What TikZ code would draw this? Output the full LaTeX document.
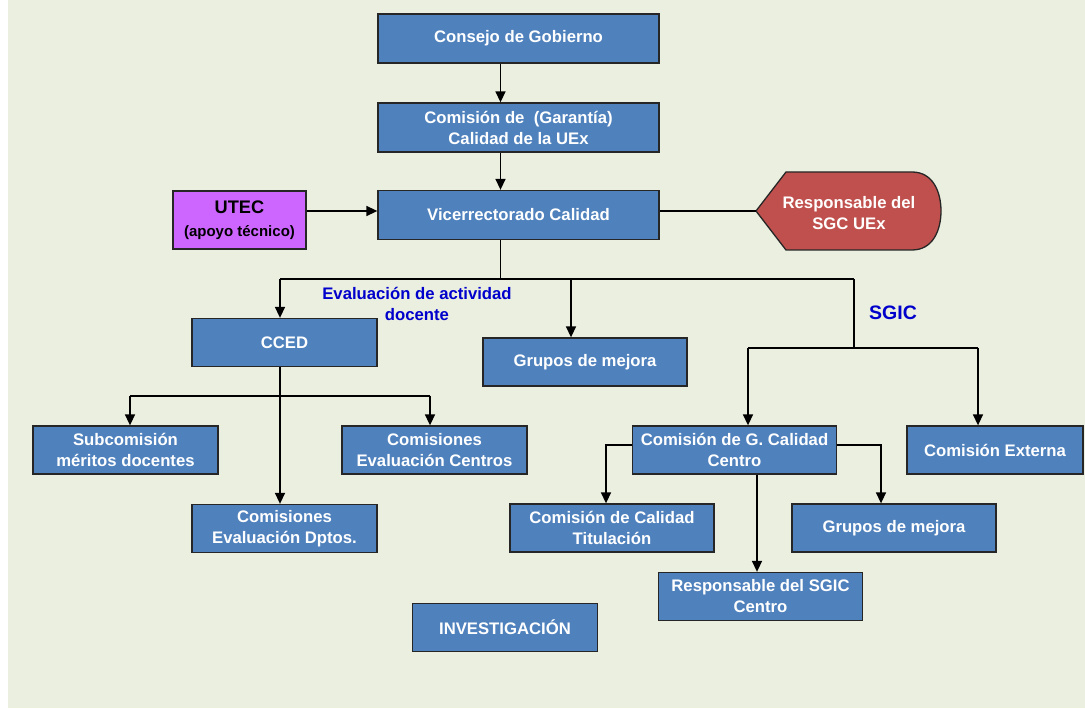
\documentclass[tikz,border=0pt]{standalone}
\usepackage{fontspec}
\setmainfont{Liberation Sans}
\usepackage{xcolor}
\usepackage{tikz}
\definecolor{boxblue}{RGB}{79,129,189}
\definecolor{utecpurple}{RGB}{204,102,255}
\definecolor{respred}{RGB}{192,80,77}
\definecolor{paneback}{RGB}{235,239,223}
\definecolor{labelblue}{RGB}{0,0,204}
\definecolor{edgegray}{RGB}{38,38,38}
\usetikzlibrary{arrows.meta,positioning,calc}

\begin{document}
\begin{tikzpicture}[
    x=1pt, y=-1pt,
    unit/.style={rectangle, draw=edgegray, line width=1.3pt, fill=boxblue, text=white, align=center, inner sep=0pt, font=\bfseries\fontsize{16.7}{21}\selectfont},
    topbox/.style={unit, minimum width=281, minimum height=49},
    midbox/.style={unit, minimum width=204, minimum height=48},
    smallbox/.style={unit, minimum width=185, minimum height=48},
    blabel/.style={text=labelblue, align=center, font=\bfseries\fontsize{16.7}{21}\selectfont},
    arrow/.style={-{Triangle[length=11pt,width=10pt]}, line width=1.5pt},
    link/.style={line width=1.5pt}
]

\useasboundingbox (0,0) rectangle (1085,711);
\fill[paneback] (8,0) rectangle (1085,708);

\node[topbox] (gobierno) at (518.5,38.5) {Consejo de Gobierno};
\node[topbox] (comision) at (518.5,127.5) {Comisión de~ (Garantía)\\Calidad de la UEx};
\node[topbox] (vice) at (518.5,215) {Vicerrectorado Calidad};
\node[unit, fill=utecpurple, text=black, minimum width=133, minimum height=58] (utec) at (239.5,220) {{\fontsize{18.2}{23}\selectfont UTEC}\\[2pt]{\fontsize{15}{19}\selectfont (apoyo técnico)}};

\path[draw=edgegray, line width=1.3pt, fill=respred] (756,211) -- (786,172) -- (912,172) .. controls (933,172) and (941,192) .. (941,211) .. controls (941,230) and (933,250) .. (912,250) -- (786,250) -- cycle;
\node[text=white, align=center, font=\bfseries\fontsize{16.7}{21}\selectfont] (resp) at (849,213) {Responsable del\\SGC UEx};
\coordinate (resptip) at (756,211);

\node[smallbox] (cced) at (284.5,342.5) {CCED};
\node[midbox] (grupos) at (585,362) {Grupos de mejora};
\node[blabel] (evallabel) at (417,304) {Evaluación de actividad\\docente};
\node[blabel, font=\bfseries\fontsize{19.5}{23}\selectfont] (sgiclabel) at (893,313) {SGIC};

\node[smallbox] (subcom) at (125.5,450) {Subcomisión\\méritos docentes};
\node[smallbox] (centros) at (434.5,450) {Comisiones\\Evaluación Centros};
\node[smallbox] (dptos) at (284.5,528.5) {Comisiones\\Evaluación Dptos.};

\node[midbox] (gcc) at (734.5,450) {Comisión de G. Calidad\\Centro};
\node[unit, minimum width=176, minimum height=48] (externa) at (995,450) {Comisión Externa};
\node[midbox] (titulacion) at (612,528) {Comisión de Calidad\\Titulación};
\node[midbox] (mejora) at (894,528) {Grupos de mejora};
\node[midbox] (respsgic) at (760.5,596.5) {Responsable del SGIC\\Centro};
\node[smallbox] (investigacion) at (505,627.5) {INVESTIGACIÓN};

\coordinate (hub) at (500.5,279);
\coordinate (hubL) at (280,279);
\coordinate (hubM) at (571,279);
\coordinate (hubR) at (854,279);
\coordinate (sgicL) at (748,348);
\coordinate (sgicR) at (978,348);
\coordinate (ccedL) at (130,396);
\coordinate (ccedR) at (430,396);
\coordinate (gccL) at (606,445);
\coordinate (gccR) at (881,445);
\coordinate (gccB) at ([xshift=22.5pt]gcc.south);

\draw[arrow] ([xshift=-18pt]gobierno.south) -- ([xshift=-18pt]comision.north);
\draw[arrow] ([xshift=-18pt]comision.south) -- ([xshift=-18pt]vice.north);
\draw[arrow] (utec.east |- resptip) -- (vice.west |- resptip);
\draw[link] (vice.east |- resptip) -- (resptip);

\draw[link] ([xshift=-18pt]vice.south) -- (hub);
\draw[link] (hubL) -- (hubR);
\draw[arrow] (hubL) -- (hubL |- cced.north);
\draw[arrow] (hubM) -- (hubM |- grupos.north);
\draw[link] (hubR) -- (hubR |- sgicL);
\draw[link] (sgicL) -- (sgicR);
\draw[arrow] (sgicL) -- (sgicL |- gcc.north);
\draw[arrow] (sgicR) -- (sgicR |- externa.north);

\draw[arrow] (hubL |- cced.south) -- (hubL |- dptos.north);
\draw[link] (ccedL) -- (ccedR);
\draw[arrow] (ccedL) -- (ccedL |- subcom.north);
\draw[arrow] (ccedR) -- (ccedR |- centros.north);

\draw[arrow] (gcc.west |- gccL) -- (gccL) -- (gccL |- titulacion.north);
\draw[arrow] (gcc.east |- gccR) -- (gccR) -- (gccR |- mejora.north);
\draw[arrow] (gccB) -- (gccB |- respsgic.north);

\end{tikzpicture}
\end{document}
